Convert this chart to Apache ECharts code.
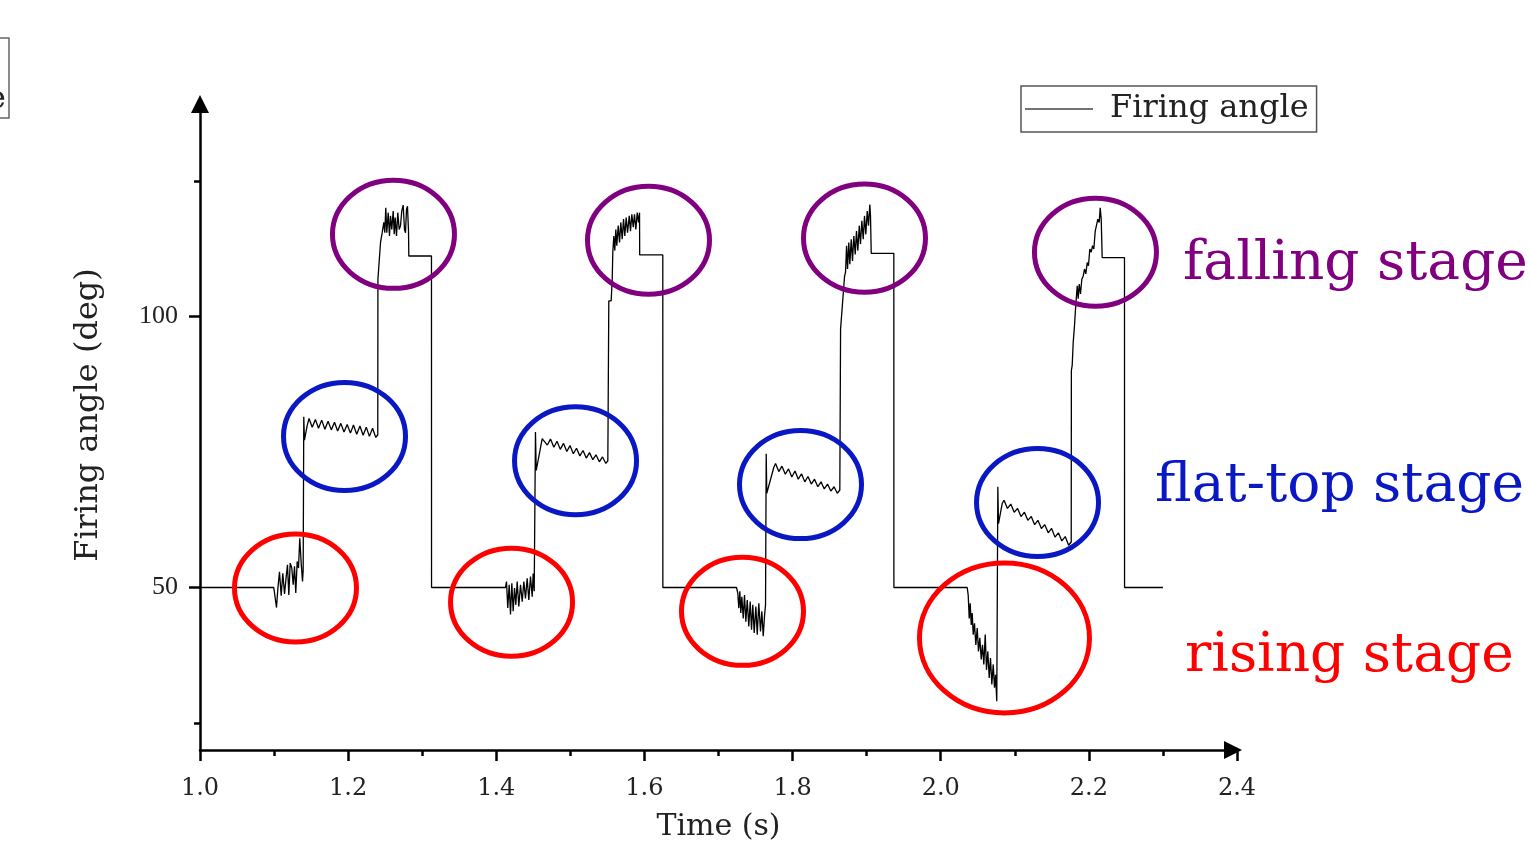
<!DOCTYPE html>
<html>
<head>
<meta charset="utf-8">
<title>Firing angle</title>
<script src="https://cdn.jsdelivr.net/npm/echarts@6.0.0/dist/echarts.min.js"></script>
<style>
  html, body { margin: 0; padding: 0; background: #fff; }
  #chart { width: 1530px; height: 847px; }
</style>
</head>
<body>
<div id="chart"></div>
<script>
// firing angle trace, [time (s), angle (deg)], one array per cycle
const cycle1 = [
  [1.0000, 50.0], [1.0996, 50.0], [1.1033, 46.3], [1.1050, 49.6], [1.1073, 52.9], [1.1096, 48.5],
  [1.1118, 52.6], [1.1141, 48.8], [1.1164, 52.0], [1.1181, 54.2], [1.1199, 48.6], [1.1218, 54.5],
  [1.1239, 53.6], [1.1258, 50.5], [1.1276, 53.9], [1.1293, 49.0], [1.1312, 54.8], [1.1330, 53.6],
  [1.1347, 59.1], [1.1366, 54.5], [1.1384, 51.1], [1.1393, 53.2], [1.1401, 81.5], [1.1410, 77.2],
  [1.1447, 79.9], [1.1472, 81.2], [1.1515, 79.6], [1.1558, 81.0], [1.1600, 79.4], [1.1643, 80.9],
  [1.1686, 79.2], [1.1729, 80.7], [1.1773, 79.1], [1.1816, 80.5], [1.1858, 78.9], [1.1901, 80.3],
  [1.1944, 78.7], [1.1987, 80.1], [1.2031, 78.5], [1.2072, 80.0], [1.2116, 78.3], [1.2159, 79.8],
  [1.2202, 78.1], [1.2245, 79.6], [1.2287, 77.9], [1.2330, 79.4], [1.2373, 77.7], [1.2400, 78.2],
  [1.2402, 106.9], [1.2437, 113.7], [1.2460, 115.5], [1.2481, 117.4], [1.2495, 115.5], [1.2508, 120.1],
  [1.2522, 115.5], [1.2541, 119.2], [1.2558, 114.9], [1.2572, 118.6], [1.2589, 116.1], [1.2608, 119.5],
  [1.2622, 115.2], [1.2635, 118.3], [1.2653, 114.9], [1.2670, 119.2], [1.2689, 116.1], [1.2707, 116.8],
  [1.2724, 119.5], [1.2743, 120.6], [1.2761, 116.1], [1.2774, 115.5], [1.2788, 119.8], [1.2801, 120.4],
  [1.2815, 115.8], [1.2819, 111.2], [1.3125, 111.2], [1.3126, 50.0]
];
const cycle2 = [
  [1.4124, 50.0], [1.4138, 51.1], [1.4155, 46.2], [1.4174, 50.5], [1.4192, 45.0], [1.4210, 50.8],
  [1.4228, 45.6], [1.4246, 49.9], [1.4264, 46.8], [1.4282, 51.1], [1.4304, 46.5], [1.4327, 50.5],
  [1.4350, 47.4], [1.4372, 51.1], [1.4394, 48.0], [1.4417, 51.7], [1.4439, 47.7], [1.4462, 52.0],
  [1.4485, 48.3], [1.4498, 52.6], [1.4512, 49.3], [1.4529, 78.7], [1.4539, 71.6], [1.4620, 77.5],
  [1.4644, 77.8], [1.4689, 76.3], [1.4732, 77.4], [1.4777, 75.9], [1.4820, 77.0], [1.4864, 75.5],
  [1.4908, 76.6], [1.4952, 75.1], [1.4995, 76.2], [1.5040, 74.7], [1.5083, 75.7], [1.5128, 74.3],
  [1.5171, 75.3], [1.5215, 73.9], [1.5259, 74.9], [1.5303, 73.6], [1.5346, 74.5], [1.5391, 73.2],
  [1.5434, 74.1], [1.5479, 72.9], [1.5506, 73.4],
  [1.5519, 102.9], [1.5551, 102.9], [1.5565, 106.9], [1.5573, 111.9], [1.5587, 114.9], [1.5600, 112.2],
  [1.5614, 116.1], [1.5627, 113.1], [1.5646, 116.8], [1.5664, 113.7], [1.5681, 117.4], [1.5700, 114.3],
  [1.5718, 118.0], [1.5735, 114.9], [1.5754, 118.3], [1.5772, 115.5], [1.5795, 118.6], [1.5812, 115.8],
  [1.5830, 118.9], [1.5849, 116.5], [1.5866, 118.9], [1.5884, 116.1], [1.5903, 119.2], [1.5920, 117.4],
  [1.5934, 119.2], [1.5936, 111.4], [1.6248, 111.4], [1.6249, 50.0]
];
const cycle3 = [
  [1.7243, 50.0], [1.7261, 48.9], [1.7274, 46.2], [1.7288, 49.3], [1.7301, 45.3], [1.7315, 48.3],
  [1.7334, 44.3], [1.7351, 48.6], [1.7369, 43.7], [1.7388, 47.7], [1.7409, 42.8], [1.7428, 47.4],
  [1.7446, 42.2], [1.7463, 46.8], [1.7482, 41.6], [1.7504, 46.5], [1.7523, 41.3], [1.7544, 47.1],
  [1.7567, 41.9], [1.7585, 45.6], [1.7604, 41.0], [1.7621, 44.7], [1.7635, 46.8], [1.7644, 74.7],
  [1.7652, 67.4], [1.7747, 72.2],
  [1.7770, 72.9], [1.7814, 71.4], [1.7857, 72.4], [1.7902, 70.9], [1.7945, 71.9], [1.7990, 70.4],
  [1.8033, 71.5], [1.8077, 70.0], [1.8121, 71.0], [1.8165, 69.5], [1.8208, 70.5], [1.8253, 69.1],
  [1.8296, 70.0], [1.8341, 68.6], [1.8384, 69.5], [1.8428, 68.2], [1.8472, 69.1], [1.8516, 67.8],
  [1.8560, 68.6], [1.8604, 67.4], [1.8638, 68.0],
  [1.8648, 97.7], [1.8702, 107.5], [1.8715, 108.2], [1.8729, 113.1], [1.8742, 108.8], [1.8759, 113.7],
  [1.8773, 109.7], [1.8792, 114.3], [1.8809, 110.3], [1.8827, 114.9], [1.8846, 111.5], [1.8863, 115.8],
  [1.8881, 112.2], [1.8900, 116.8], [1.8917, 113.4], [1.8935, 117.7], [1.8954, 114.3], [1.8971, 118.6],
  [1.8989, 115.2], [1.9008, 119.5], [1.9025, 116.8], [1.9043, 120.7], [1.9052, 118.6], [1.9062, 111.7],
  [1.9367, 111.7], [1.9368, 50.0]
];
const cycle4 = [
  [2.0358, 50.0], [2.0371, 48.6], [2.0385, 44.3], [2.0398, 47.1], [2.0412, 43.1], [2.0425, 45.3],
  [2.0439, 41.3], [2.0456, 43.4], [2.0474, 39.4], [2.0493, 42.5], [2.0510, 38.2], [2.0528, 40.7],
  [2.0547, 36.7], [2.0564, 39.4], [2.0582, 35.8], [2.0601, 41.3], [2.0618, 34.8], [2.0636, 38.2],
  [2.0655, 33.3], [2.0672, 37.0], [2.0690, 32.1], [2.0709, 35.8], [2.0726, 31.5], [2.0740, 33.9],
  [2.0757, 29.0], [2.0771, 68.6], [2.0780, 61.8], [2.0830, 65.5],
  [2.0855, 66.1], [2.0901, 64.6], [2.0946, 65.4], [2.0992, 63.9], [2.1038, 64.6], [2.1084, 63.1],
  [2.1130, 63.9], [2.1176, 62.4], [2.1222, 63.1], [2.1268, 61.6], [2.1313, 62.4], [2.1359, 60.9],
  [2.1405, 61.6], [2.1451, 60.1], [2.1497, 60.9], [2.1543, 59.3], [2.1589, 60.1], [2.1635, 58.6],
  [2.1681, 59.4], [2.1727, 57.8], [2.1762, 58.4],
  [2.1764, 90.1], [2.1775, 91.0], [2.1789, 95.3], [2.1806, 98.3], [2.1820, 101.4], [2.1833, 103.9],
  [2.1843, 105.7], [2.1856, 103.3], [2.1870, 106.0], [2.1887, 104.2], [2.1905, 106.9], [2.1924, 107.5],
  [2.1941, 108.8], [2.1959, 107.9], [2.1978, 110.0], [2.1995, 109.4], [2.2013, 112.5], [2.2032, 111.9],
  [2.2050, 113.1], [2.2067, 112.5], [2.2086, 115.8], [2.2103, 115.5], [2.2121, 118.0], [2.2140, 117.4],
  [2.2153, 120.1], [2.2167, 118.0], [2.2180, 110.9], [2.2481, 110.9], [2.2482, 50.0], [2.3000, 50.0]
];

// axis ticks
const yLabelValues = [50, 100];
const yMinorTicks = [25, 125];

// annotation ellipse centres [time, angle]
const risingMarks = [[1.1289, 49.9], [1.4206, 47.3], [1.7324, 45.6]];
const risingBigMark = [[2.0861, 40.7]];
const flatTopMarks = [[1.1951, 77.9], [1.5070, 73.4], [1.8107, 69.0], [2.1307, 65.7]];
const fallingMarks = [[1.2612, 115.2], [1.6055, 114.1], [1.8971, 114.5], [2.2089, 111.9]];

const SERIF = '"DejaVu Serif", serif';
const RED = '#ff0000', BLUE = '#0a18c4', PURPLE = '#800080';

let chart = echarts.init(document.getElementById('chart'), null, {width: 1530, height: 847});

let axisLine = {color: '#000', width: 2.5};
let nameStyle = {fontFamily: SERIF, fontSize: 30, color: '#222'};

let option = {
  animation: false,
  backgroundColor: '#fff',
  grid: {left: 200, right: 293, top: 100, bottom: 95},
  legend: {
    data: ['Firing angle'],
    left: 1021,
    top: 86,
    borderColor: '#555',
    borderWidth: 1.5,
    padding: [7, 8, 7, 4],
    icon: 'rect',
    itemWidth: 68,
    itemHeight: 1.5,
    itemStyle: {color: '#444'},
    textStyle: {fontFamily: SERIF, fontSize: 32, color: '#222', padding: [0, 0, 0, 12]}
  },
  xAxis: {
    type: 'value',
    min: 1.0,
    max: 2.4,
    interval: 0.2,
    axisLine: {show: true, onZero: false, symbol: ['none', 'triangle'], symbolSize: [18, 18], symbolOffset: [0, -4], lineStyle: axisLine},
    axisTick: {show: true, length: 11, lineStyle: axisLine},
    minorTick: {show: true, splitNumber: 2, length: 6, lineStyle: axisLine},
    axisLabel: {fontFamily: SERIF, fontSize: 24, color: '#222', margin: 27, formatter: v => v.toFixed(1)},
    splitLine: {show: false},
    minorSplitLine: {show: false},
    name: 'Time (s)',
    nameLocation: 'middle',
    nameGap: 62,
    nameTextStyle: nameStyle
  },
  yAxis: [
    {
      type: 'value',
      min: 20,
      max: 140,
      position: 'left',
      axisLine: {show: true, onZero: false, symbol: ['none', 'triangle'], symbolSize: [18, 18], symbolOffset: [0, -4], lineStyle: axisLine},
      axisTick: {show: true, length: 11, customValues: yLabelValues, lineStyle: axisLine},
      axisLabel: {customValues: yLabelValues, fontFamily: '"Liberation Serif", serif', fontSize: 26, color: '#222', margin: 22},
      splitLine: {show: false},
      name: 'Firing angle (deg)',
      nameLocation: 'middle',
      nameRotate: 90,
      nameGap: 95,
      nameTextStyle: {fontFamily: SERIF, fontSize: 32, color: '#222', padding: [0, 0, 0, 20]}
    },
    {
      // minor ticks only
      type: 'value',
      min: 20,
      max: 140,
      position: 'left',
      axisLine: {show: false},
      axisTick: {show: true, length: 6, customValues: yMinorTicks, lineStyle: axisLine},
      axisLabel: {show: false},
      splitLine: {show: false}
    }
  ],
  series: [{
    name: 'Firing angle',
    type: 'line',
    symbol: 'none',
    data: cycle1.concat(cycle2, cycle3, cycle4),
    lineStyle: {color: '#000', width: 1.3},
    itemStyle: {color: '#000'}
  }]
};
chart.setOption(option);

// annotations
function ring(center, rx, ry, color) {
  let p = chart.convertToPixel({xAxisIndex: 0, yAxisIndex: 0}, center);
  return {
    type: 'ellipse',
    z: 10,
    shape: {cx: p[0], cy: p[1], rx: rx, ry: ry},
    style: {fill: 'none', stroke: color, lineWidth: 5}
  };
}
function label(text, x, y, color) {
  return {
    type: 'text',
    z: 10,
    style: {text: text, x: x, y: y, fill: color, fontFamily: SERIF, fontSize: 55, verticalAlign: 'middle'}
  };
}

let graphics = [];
risingMarks.forEach(c => graphics.push(ring(c, 61, 54, RED)));
risingBigMark.forEach(c => graphics.push(ring(c, 85, 75, RED)));
flatTopMarks.forEach(c => graphics.push(ring(c, 61, 54, BLUE)));
fallingMarks.forEach(c => graphics.push(ring(c, 61, 54, PURPLE)));
graphics.push(label('falling stage', 1183, 265, PURPLE));
graphics.push(label('flat-top stage', 1155, 487, BLUE));
graphics.push(label('rising stage', 1185, 657, RED));

// clipped legend box at the top-left edge
graphics.push({
  type: 'rect',
  shape: {x: -150, y: 38, width: 159, height: 80},
  style: {fill: 'none', stroke: '#666', lineWidth: 1.5}
});
graphics.push({
  type: 'text',
  style: {text: 'Firing angle', x: 6, y: 100, fill: '#222', fontFamily: SERIF, fontSize: 32, align: 'right', verticalAlign: 'middle'}
});

chart.setOption({graphic: graphics});
</script>
</body>
</html>
